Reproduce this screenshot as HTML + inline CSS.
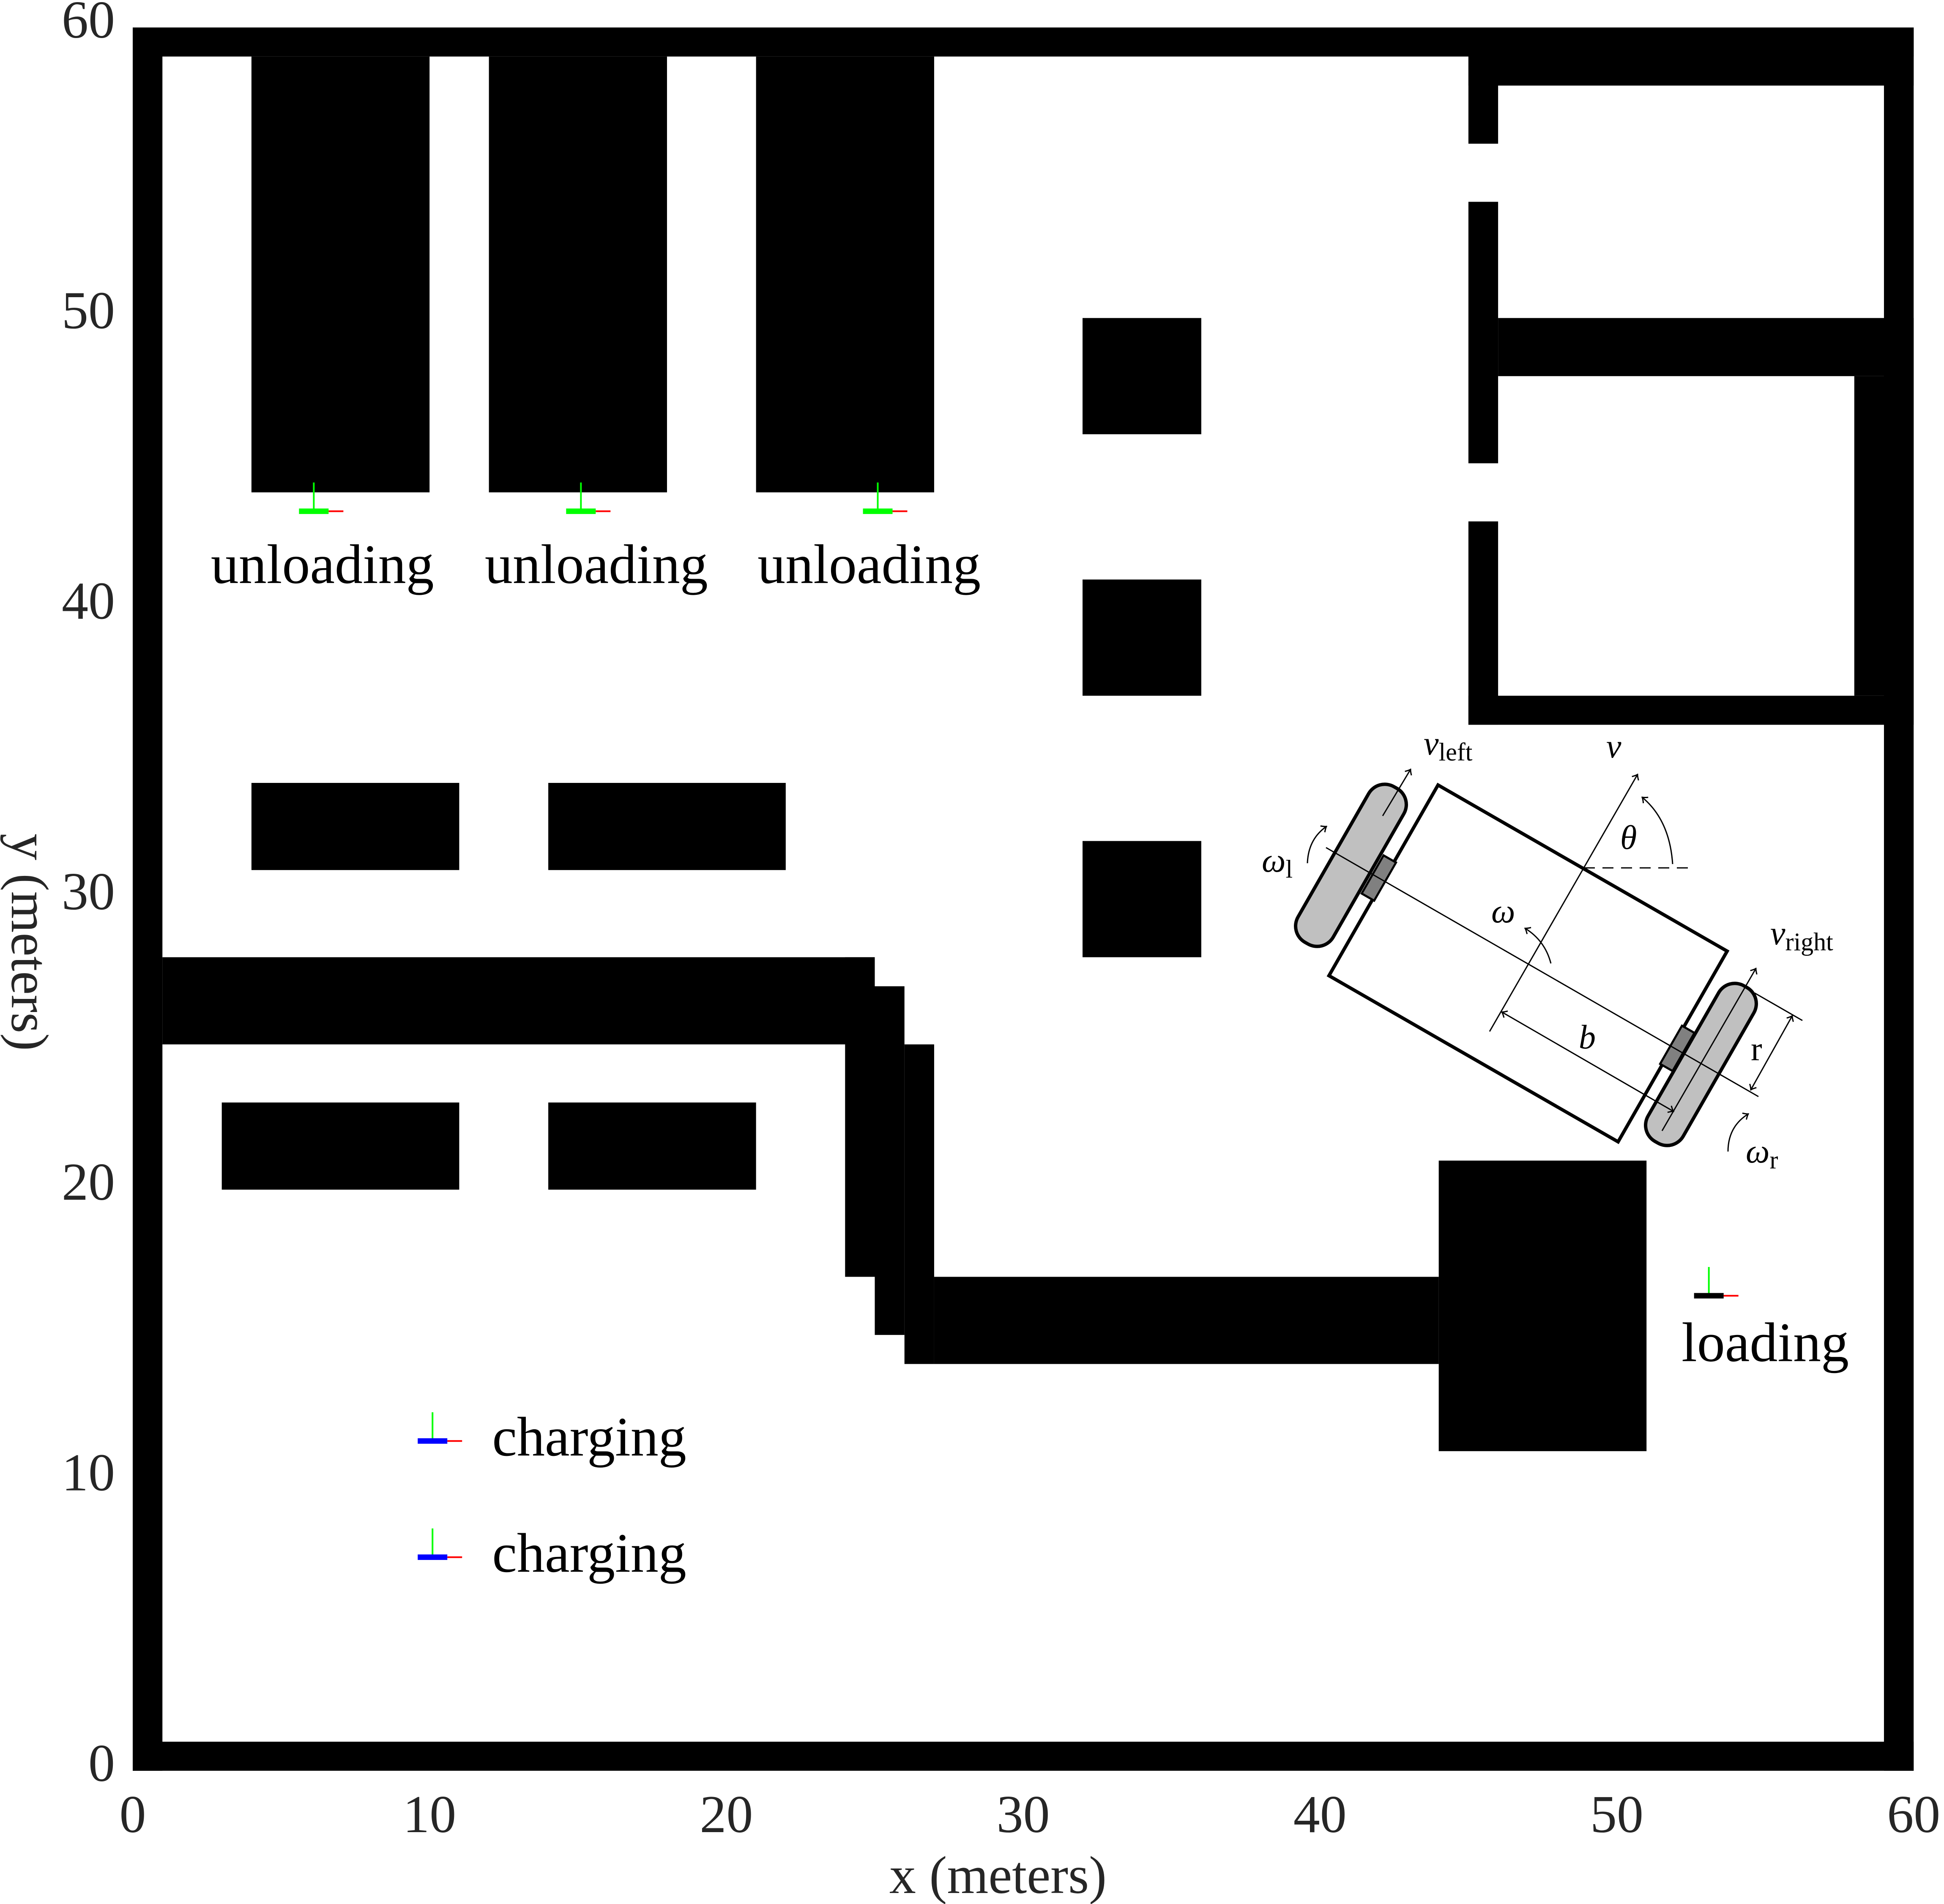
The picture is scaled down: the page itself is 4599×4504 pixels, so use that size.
<!DOCTYPE html>
<html><head><meta charset="utf-8"><style>
html,body{margin:0;padding:0;background:#fff;}
svg{display:block;}
text{font-family:"Liberation Serif",serif;}
</style></head><body>
<svg id="chart" width="4599" height="4504" viewBox="0 0 4599 4504" xmlns="http://www.w3.org/2000/svg">
<defs>
<marker id="arr" viewBox="-12 -10 14 20" markerWidth="14" markerHeight="20" refX="0" refY="0" orient="auto-start-reverse" markerUnits="userSpaceOnUse">
<path d="M-11,-9 Q-4,-2 0,0 Q-4,2 -11,9" fill="none" stroke="#000" stroke-width="3"/>
</marker>
</defs>
<g id="map"></g>
<g id="markers"></g>
<g id="axes"></g>
<g id="robot">
  <polygon points="3402,1857 4086,2250 3828,2701 3144,2308" fill="#fff" stroke="#000" stroke-width="8" stroke-linejoin="miter"/>
  <rect x="-52" y="-17" width="104" height="34" fill="#808080" stroke="#000" stroke-width="5" transform="translate(3262,2077) rotate(-60.2)"/>
  <rect x="-52" y="-17" width="104" height="34" fill="#808080" stroke="#000" stroke-width="5" transform="translate(3968,2480) rotate(-60.2)"/>
  <rect x="-212" y="-48" width="424" height="96" rx="44" fill="#c0c0c0" stroke="#000" stroke-width="8" transform="translate(3196,2047) rotate(-60.2)"/>
  <rect x="-212" y="-48" width="424" height="96" rx="44" fill="#c0c0c0" stroke="#000" stroke-width="8" transform="translate(4024,2518) rotate(-60.2)"/>
  <line x1="3137" y1="2005" x2="4160" y2="2594" stroke="#000" stroke-width="3"/>
  <line x1="3524" y1="2440" x2="3874" y2="1832" stroke="#000" stroke-width="3" marker-end="url(#arr)"/>
  <line x1="3747" y1="2053" x2="3995" y2="2053" stroke="#000" stroke-width="3" stroke-dasharray="26,18"/>
  <path d="M3957,2044 Q3950,1940 3885,1886" fill="none" stroke="#000" stroke-width="3" marker-end="url(#arr)"/>
  <path d="M3669,2279 Q3655,2225 3608,2196" fill="none" stroke="#000" stroke-width="3" marker-end="url(#arr)"/>
  <line x1="3553" y1="2394" x2="3959" y2="2629" stroke="#000" stroke-width="3" marker-start="url(#arr)" marker-end="url(#arr)"/>
  <line x1="4151" y1="2349" x2="4264" y2="2414" stroke="#000" stroke-width="3"/>
  <line x1="4240" y1="2403" x2="4142" y2="2578" stroke="#000" stroke-width="3" marker-start="url(#arr)" marker-end="url(#arr)"/>
  <line x1="3271" y1="1930" x2="3337" y2="1820" stroke="#000" stroke-width="3" marker-end="url(#arr)"/>
  <line x1="3932" y1="2675" x2="4154" y2="2291" stroke="#000" stroke-width="3" marker-end="url(#arr)"/>
  <path d="M3093,2042 Q3095,1985 3138,1955" fill="none" stroke="#000" stroke-width="3" marker-end="url(#arr)"/>
  <path d="M4088,2724 Q4088,2665 4136,2635" fill="none" stroke="#000" stroke-width="3" marker-end="url(#arr)"/>
  <text x="3368" y="1785" font-size="80" font-style="italic">v<tspan font-style="normal" font-size="60" dy="14">left</tspan></text>
  <text x="3800" y="1792" font-size="80" font-style="italic">v</text>
  <text x="3833" y="2008" font-size="80" font-style="italic">θ</text>
  <text x="3528" y="2182" font-size="80" font-style="italic">ω</text>
  <text x="2985" y="2062" font-size="80" font-style="italic">ω<tspan font-style="normal" font-size="60" dy="14">l</tspan></text>
  <text x="3735" y="2480" font-size="80" font-style="italic">b</text>
  <text x="4142" y="2508" font-size="80">r</text>
  <text x="4188" y="2234" font-size="80" font-style="italic">v<tspan font-style="normal" font-size="60" dy="14">right</tspan></text>
  <text x="4130" y="2750" font-size="80" font-style="italic">ω<tspan font-style="normal" font-size="60" dy="14">r</tspan></text>
</g>
</svg>
<script>
const obstacleX0 = [0, 0, 0, 59, 4, 12, 21, 32, 32, 32, 4, 14, 3, 14, 1, 24, 25, 26, 27, 44, 45, 45, 45, 45, 46, 58, 45];
const obstacleY0 = [0, 59, 0, 0, 44, 44, 44, 46, 37, 28, 31, 31, 20, 20, 25, 17, 15, 14, 14, 11, 56, 45, 36, 58, 48, 37, 36];
const obstacleX1 = [60, 60, 1, 60, 10, 18, 27, 36, 36, 36, 11, 22, 11, 21, 25, 25, 26, 27, 44, 51, 46, 46, 46, 60, 60, 60, 60];
const obstacleY1 = [1, 60, 60, 60, 59, 59, 59, 50, 41, 32, 34, 34, 23, 23, 28, 28, 27, 25, 17, 21, 59, 54, 43, 60, 50, 48, 37];
const markerX = [6.1, 15.1, 25.1, 10.1, 10.1, 53.1];
const markerY = [43.35, 43.35, 43.35, 11.35, 7.35, 16.35];
const markerColor = ['#00ff00', '#00ff00', '#00ff00', '#0000ff', '#0000ff', '#000000'];
const markerLabel = ['unloading', 'unloading', 'unloading', 'charging', 'charging', 'loading'];
const labelX = [6.39, 15.62, 24.81, 12.11, 12.11, 55.0];
const labelY = [40.88, 40.88, 40.88, 10.85, 6.85, 14.1];
const labelAnchor = ['middle', 'middle', 'middle', 'start', 'start', 'middle'];
const xTicks = [0, 10, 20, 30, 40, 50, 60];
const yTicks = [0, 10, 20, 30, 40, 50, 60];

const NS = 'http://www.w3.org/2000/svg';
function X(v){ return 314 + v * 70.22; }
function Y(v){ return 65 + (60 - v) * 68.73; }
function mk(tag, attrs, parent){
  const e = document.createElementNS(NS, tag);
  for (const k in attrs) e.setAttribute(k, attrs[k]);
  parent.appendChild(e);
  return e;
}
const map = document.getElementById('map');
for (let i = 0; i < obstacleX0.length; i++) {
  const r = mk('rect', {x: X(obstacleX0[i]), y: Y(obstacleY1[i]), width: X(obstacleX1[i]) - X(obstacleX0[i]), height: Y(obstacleY0[i]) - Y(obstacleY1[i]), fill: '#000'}, map);
  
  
}
const mg = document.getElementById('markers');
for (let i = 0; i < markerX.length; i++) {
  const cx = X(markerX[i]), cy = Y(markerY[i]);
  const g = mk('g', {}, mg);
  
  
  mk('line', {x1: cx + 35, y1: cy, x2: cx + 70, y2: cy, stroke: '#ff0000', 'stroke-width': 4}, g);
  mk('line', {x1: cx, y1: cy, x2: cx, y2: cy - 68, stroke: '#00ff00', 'stroke-width': 4}, g);
  mk('line', {x1: cx - 35, y1: cy, x2: cx + 35, y2: cy, stroke: markerColor[i], 'stroke-width': 13}, g);
  const t = mk('text', {x: X(labelX[i]), y: Y(labelY[i]), 'font-size': 132, fill: '#000', 'text-anchor': labelAnchor[i]}, mg);
  t.textContent = markerLabel[i];
  
  
}
const ax = document.getElementById('axes');
for (let i = 0; i < xTicks.length; i++) {
  const t = mk('text', {x: X(xTicks[i]), y: 4334, 'font-size': 126, fill: '#262626', 'text-anchor': 'middle'}, ax);
  t.textContent = xTicks[i];
  
  
}
for (let i = 0; i < yTicks.length; i++) {
  const t = mk('text', {x: 272, y: Y(yTicks[i]) + 24, 'font-size': 126, fill: '#262626', 'text-anchor': 'end'}, ax);
  t.textContent = yTicks[i];
  
  
}
const xl = mk('text', {x: 2361, y: 4478, 'font-size': 126, fill: '#262626', 'text-anchor': 'middle'}, ax);
xl.textContent = 'x (meters)';


const yl = mk('text', {x: 0, y: 0, 'font-size': 126, fill: '#262626', 'text-anchor': 'middle', transform: 'translate(28,2229) rotate(90)'}, ax);
yl.textContent = 'y (meters)';


</script>
</body></html>
